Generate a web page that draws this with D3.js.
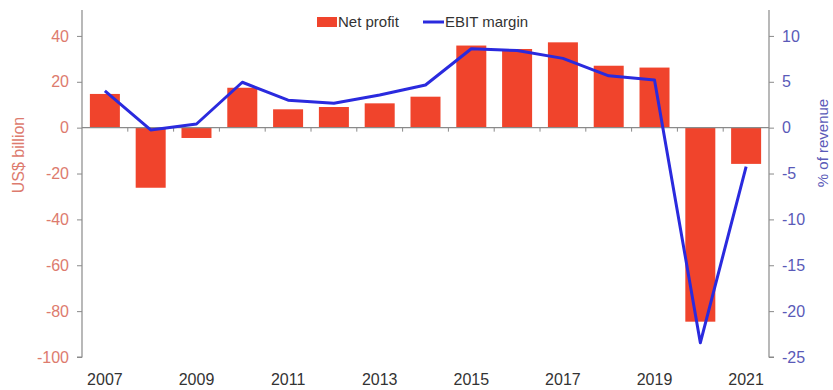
<!DOCTYPE html>
<html>
<head>
<meta charset="utf-8">
<script src="https://cdn.jsdelivr.net/npm/d3@7/dist/d3.min.js"></script>
<style>
  html, body { margin: 0; padding: 0; background: #fff; }
  svg { display: block; font-family: "Liberation Sans", Arial, sans-serif; }
</style>
</head>
<body>
<svg id="chart" width="833" height="390"></svg>
<script>
// Airline industry net profit (US$ bn) and EBIT margin (% of revenue)
const years = ["2007","2008","2009","2010","2011","2012","2013","2014","2015","2016","2017","2018","2019","2020","2021"];
const netProfit = [14.7, -26.2, -4.5, 17.4, 8.0, 9.0, 10.6, 13.5, 35.8, 34.3, 37.2, 27.0, 26.2, -84.6, -15.8];
const ebitMargin = [4.0, -0.25, 0.4, 4.95, 3.0, 2.65, 3.55, 4.65, 8.6, 8.4, 7.55, 5.65, 5.2, -23.45, -4.25];
const leftTicks = [40, 20, 0, -20, -40, -60, -80, -100];
const rightTicks = [10, 5, 0, -5, -10, -15, -20, -25];
const xTickYears = ["2007","2009","2011","2013","2015","2017","2019","2021"];

const svg = d3.select("#chart");
const margin = { left: 82, right: 64, top: 10, bottom: 33 };
const W = 833, H = 390;
const plotTop = margin.top, plotBottom = H - margin.bottom;

const barColor = "#f0442c";
const lineColor = "#2a2ade";
const leftColor = "#dd7b6e";
const rightColor = "#5a5ab8";
const axisColor = "#8a8a8a";
const plain = d => String(d);

const x = d3.scaleBand().domain(years).range([margin.left, W - margin.right]).paddingInner(0.345).paddingOuter(0.172);
const yL = d3.scaleLinear().domain([-100, 51.3]).range([plotBottom, plotTop]);
const yR = d3.scaleLinear().domain([-25, 12.825]).range([plotBottom, plotTop]);

// bars
svg.append("g").selectAll("rect").data(years).join("rect")
  .attr("x", d => x(d))
  .attr("width", x.bandwidth())
  .attr("y", (d, i) => yL(Math.max(0, netProfit[i])))
  .attr("height", (d, i) => Math.abs(yL(netProfit[i]) - yL(0)))
  .attr("fill", barColor);

// zero line with category boundary ticks
const x0 = margin.left, x1 = W - margin.right;
svg.append("line").attr("x1", x0).attr("x2", x1).attr("y1", yL(0)).attr("y2", yL(0))
  .attr("stroke", axisColor).attr("stroke-width", 1.2);
const step = (x1 - x0) / years.length;
svg.append("g").selectAll("line").data(d3.range(1, years.length)).join("line")
  .attr("x1", i => x0 + i * step).attr("x2", i => x0 + i * step)
  .attr("y1", yL(0)).attr("y2", yL(0) + 4)
  .attr("stroke", axisColor).attr("stroke-width", 1);

// EBIT margin line
const line = d3.line().x((d, i) => x(years[i]) + x.bandwidth() / 2).y(d => yR(d));
svg.append("path").datum(ebitMargin)
  .attr("d", line).attr("fill", "none")
  .attr("stroke", lineColor).attr("stroke-width", 3).attr("stroke-linejoin", "round");

// left axis
const gL = svg.append("g").attr("transform", `translate(${x0},0)`)
  .call(d3.axisLeft(yL).tickValues(leftTicks).tickFormat(plain).tickSize(5).tickPadding(8));
gL.select(".domain").attr("stroke", axisColor).attr("stroke-width", 1.2)
  .attr("d", `M-0,${plotTop}V${plotBottom}H-5`);
gL.selectAll(".tick line").attr("stroke", axisColor);
gL.selectAll(".tick text").attr("fill", leftColor).attr("font-size", 16);

// right axis
const gR = svg.append("g").attr("transform", `translate(${x1},0)`)
  .call(d3.axisRight(yR).tickValues(rightTicks).tickFormat(plain).tickSize(5).tickPadding(8));
gR.select(".domain").attr("stroke", axisColor).attr("stroke-width", 1.2)
  .attr("d", `M0,${plotTop}V${plotBottom}H5`);
gR.selectAll(".tick line").attr("stroke", axisColor);
gR.selectAll(".tick text").attr("fill", rightColor).attr("font-size", 16);

// x labels
svg.append("g").selectAll("text").data(xTickYears).join("text")
  .attr("x", d => x(d) + x.bandwidth() / 2)
  .attr("y", 385)
  .attr("text-anchor", "middle")
  .attr("font-size", 16)
  .attr("fill", "#333")
  .text(d => d);

// axis titles
svg.append("text").attr("transform", `translate(24,155) rotate(-90)`)
  .attr("text-anchor", "middle").attr("font-size", 16).attr("fill", leftColor).text("US$ billion");
svg.append("text").attr("transform", `translate(828,143) rotate(-90)`)
  .attr("text-anchor", "middle").attr("font-size", 15).attr("fill", rightColor).text("% of revenue");

// legend
const lg = svg.append("g");
lg.append("rect").attr("x", 317).attr("y", 17).attr("width", 20).attr("height", 10).attr("fill", barColor);
lg.append("text").attr("x", 338).attr("y", 27).attr("font-size", 15).attr("fill", "#333").text("Net profit");
lg.append("line").attr("x1", 423).attr("x2", 444).attr("y1", 22).attr("y2", 22)
  .attr("stroke", lineColor).attr("stroke-width", 3);
lg.append("text").attr("x", 445).attr("y", 27).attr("font-size", 15).attr("fill", "#333").text("EBIT margin");
</script>
</body>
</html>
